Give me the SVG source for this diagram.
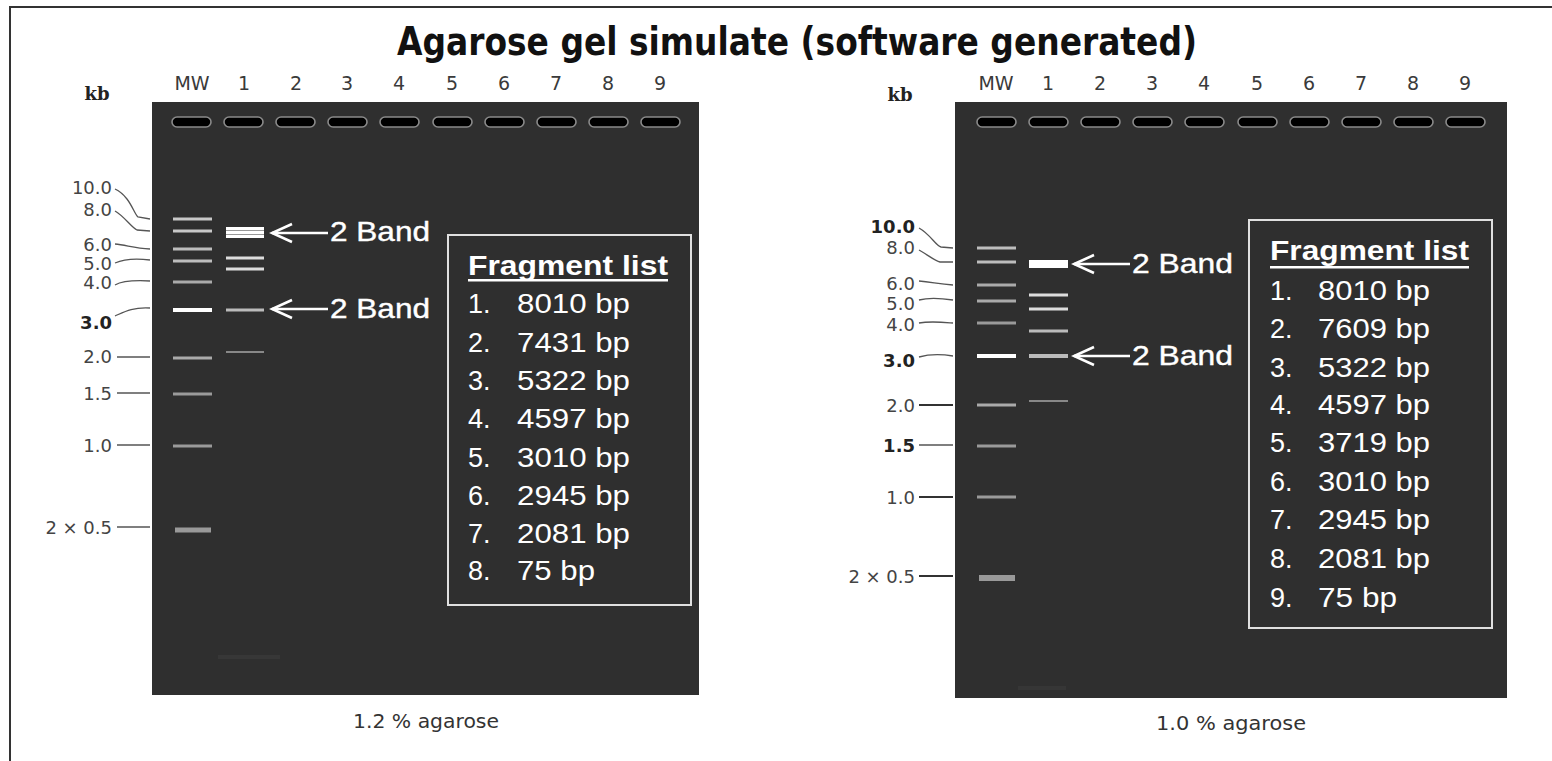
<svg xmlns="http://www.w3.org/2000/svg" width="1552" height="761" viewBox="0 0 1552 761">
<defs>
<style>
.gel{fill:#2f2f2f}
.well{fill:#000;stroke:#8a8a8a;stroke-width:1.6}
.lane{font-family:"DejaVu Sans",Verdana,sans-serif;font-size:19px;fill:#3a3a3a;text-anchor:middle}
.kb{font-family:"DejaVu Serif",serif;font-weight:bold;font-size:18px;fill:#222;text-anchor:middle}
.mk{font-family:"DejaVu Sans",Verdana,sans-serif;font-size:18px;fill:#444;text-anchor:end}
.mkb{font-weight:bold;fill:#222}
.lead{fill:none;stroke:#555;stroke-width:1.3}
.leadb{fill:none;stroke:#333;stroke-width:2.2}
.arrow{stroke:#fff;stroke-width:2.6;fill:none}
.band{font-family:"Liberation Sans",Arial,sans-serif;font-size:28px;fill:#fff;stroke:#fff;stroke-width:0.4}
.fbox{fill:none;stroke:#e0e0e0;stroke-width:2}
.fhead{font-family:"Liberation Sans",Arial,sans-serif;font-size:28px;font-weight:bold;fill:#fff}
.fitem{font-family:"Liberation Sans",Arial,sans-serif;font-size:27px;fill:#fff}
.cap{font-family:"DejaVu Sans",Verdana,sans-serif;font-size:19px;fill:#333;text-anchor:middle}
.title{font-family:"DejaVu Sans",Verdana,sans-serif;font-weight:bold;font-size:39px;fill:#111}
</style>
<marker id="ah" markerUnits="userSpaceOnUse" markerWidth="26" markerHeight="24" viewBox="0 0 26 24" refX="23" refY="12" orient="auto">
<path d="M3,3 L23,12 L3,21" fill="none" stroke="#fff" stroke-width="2.6"/>
</marker>
</defs>
<rect x="0" y="0" width="1552" height="761" fill="#fff"/>
<g id="frame">
<path d="M10,761 L10,7 L1552,7" fill="none" stroke="#333" stroke-width="2"/>
</g>
<g id="title">
<text class="title" x="397" y="55" textLength="800" lengthAdjust="spacingAndGlyphs">Agarose gel simulate (software generated)</text>
</g>

<g id="gel-left">
<rect class="gel" x="152" y="102" width="547" height="593"/>
<text class="kb" x="97" y="100">kb</text>
<g id="lanes-left">
<text class="lane" x="192" y="90">MW</text>
<text class="lane" x="244" y="90">1</text>
<text class="lane" x="296" y="90">2</text>
<text class="lane" x="347" y="90">3</text>
<text class="lane" x="399" y="90">4</text>
<text class="lane" x="452" y="90">5</text>
<text class="lane" x="504" y="90">6</text>
<text class="lane" x="556" y="90">7</text>
<text class="lane" x="608" y="90">8</text>
<text class="lane" x="660" y="90">9</text>
</g>
<g id="wells-left">
<rect class="well" x="172" y="117" width="39" height="10" rx="5"/>
<rect class="well" x="224" y="117" width="39" height="10" rx="5"/>
<rect class="well" x="276" y="117" width="39" height="10" rx="5"/>
<rect class="well" x="328" y="117" width="39" height="10" rx="5"/>
<rect class="well" x="380" y="117" width="39" height="10" rx="5"/>
<rect class="well" x="433" y="117" width="39" height="10" rx="5"/>
<rect class="well" x="485" y="117" width="39" height="10" rx="5"/>
<rect class="well" x="537" y="117" width="39" height="10" rx="5"/>
<rect class="well" x="589" y="117" width="39" height="10" rx="5"/>
<rect class="well" x="641" y="117" width="39" height="10" rx="5"/>
</g>
<g id="marker-labels-left">
<text class="mk" x="112" y="194">10.0</text>
<text class="mk" x="112" y="216">8.0</text>
<text class="mk" x="112" y="251">6.0</text>
<text class="mk" x="112" y="270">5.0</text>
<text class="mk" x="112" y="289">4.0</text>
<text class="mk mkb" x="112" y="329">3.0</text>
<text class="mk" x="112" y="363">2.0</text>
<text class="mk" x="112" y="400">1.5</text>
<text class="mk" x="112" y="452">1.0</text>
<text class="mk" x="112" y="534">2 × 0.5</text>
</g>
<g id="mw-bands-left">
<rect x="173" y="217.5" width="39" height="3" fill="#c8c8c8"/>
<rect x="173" y="229.5" width="39" height="3" fill="#c8c8c8"/>
<rect x="173" y="247.5" width="39" height="3" fill="#bdbdbd"/>
<rect x="173" y="259.5" width="39" height="3" fill="#bdbdbd"/>
<rect x="173" y="280.5" width="39" height="3" fill="#aaa"/>
<rect x="173" y="308" width="39" height="4" fill="#fff"/>
<rect x="173" y="356.5" width="39" height="3" fill="#aaa"/>
<rect x="173" y="392.5" width="39" height="3" fill="#9a9a9a"/>
<rect x="173" y="444.5" width="39" height="3" fill="#9a9a9a"/>
<rect x="175" y="527.5" width="36" height="5" fill="#999"/>
</g>
<g id="lane1-bands-left">
<rect x="226" y="227" width="38" height="11" fill="#fff"/>
<rect x="226" y="230" width="38" height="1" fill="#999"/>
<rect x="226" y="234" width="38" height="1" fill="#999"/>
<rect x="226" y="256.5" width="38" height="3" fill="#ddd"/>
<rect x="226" y="267.5" width="38" height="3" fill="#ddd"/>
<rect x="226" y="308.5" width="38" height="3" fill="#bbb"/>
<rect x="226" y="351" width="38" height="2" fill="#888"/>
<rect x="218" y="655" width="62" height="4" fill="#373737"/>
</g>
<g id="fragment-list-left">
<rect class="fbox" x="448" y="235" width="243" height="370"/>
<text class="fhead" x="468" y="275" textLength="200" lengthAdjust="spacingAndGlyphs">Fragment list</text>
<rect x="468" y="279" width="200" height="2.5" fill="#fff"/>
<text class="fitem" x="468" y="313">1.</text><text class="fitem" x="517" y="313" textLength="113" lengthAdjust="spacingAndGlyphs">8010 bp</text>
<text class="fitem" x="468" y="352">2.</text><text class="fitem" x="517" y="352" textLength="113" lengthAdjust="spacingAndGlyphs">7431 bp</text>
<text class="fitem" x="468" y="390">3.</text><text class="fitem" x="517" y="390" textLength="113" lengthAdjust="spacingAndGlyphs">5322 bp</text>
<text class="fitem" x="468" y="428">4.</text><text class="fitem" x="517" y="428" textLength="113" lengthAdjust="spacingAndGlyphs">4597 bp</text>
<text class="fitem" x="468" y="467">5.</text><text class="fitem" x="517" y="467" textLength="113" lengthAdjust="spacingAndGlyphs">3010 bp</text>
<text class="fitem" x="468" y="505">6.</text><text class="fitem" x="517" y="505" textLength="113" lengthAdjust="spacingAndGlyphs">2945 bp</text>
<text class="fitem" x="468" y="543">7.</text><text class="fitem" x="517" y="543" textLength="113" lengthAdjust="spacingAndGlyphs">2081 bp</text>
<text class="fitem" x="468" y="580">8.</text><text class="fitem" x="517" y="580" textLength="78" lengthAdjust="spacingAndGlyphs">75 bp</text>
</g>
<g id="band-labels-left">
<text class="band" x="330" y="241" textLength="100" lengthAdjust="spacingAndGlyphs">2 Band</text>
<text class="band" x="330" y="318" textLength="100" lengthAdjust="spacingAndGlyphs">2 Band</text>
</g>
<text class="cap" x="426" y="728" textLength="146" lengthAdjust="spacingAndGlyphs">1.2 % agarose</text>
</g>

<g id="gel-right">
<rect class="gel" x="955" y="102" width="552" height="596"/>
<text class="kb" x="900" y="101">kb</text>
<g id="lanes-right">
<text class="lane" x="996" y="90">MW</text>
<text class="lane" x="1048" y="90">1</text>
<text class="lane" x="1100" y="90">2</text>
<text class="lane" x="1152" y="90">3</text>
<text class="lane" x="1204" y="90">4</text>
<text class="lane" x="1257" y="90">5</text>
<text class="lane" x="1309" y="90">6</text>
<text class="lane" x="1361" y="90">7</text>
<text class="lane" x="1413" y="90">8</text>
<text class="lane" x="1465" y="90">9</text>
</g>
<g id="wells-right">
<rect class="well" x="977" y="117" width="39" height="10" rx="5"/>
<rect class="well" x="1029" y="117" width="39" height="10" rx="5"/>
<rect class="well" x="1081" y="117" width="39" height="10" rx="5"/>
<rect class="well" x="1133" y="117" width="39" height="10" rx="5"/>
<rect class="well" x="1185" y="117" width="39" height="10" rx="5"/>
<rect class="well" x="1238" y="117" width="39" height="10" rx="5"/>
<rect class="well" x="1290" y="117" width="39" height="10" rx="5"/>
<rect class="well" x="1342" y="117" width="39" height="10" rx="5"/>
<rect class="well" x="1394" y="117" width="39" height="10" rx="5"/>
<rect class="well" x="1446" y="117" width="39" height="10" rx="5"/>
</g>
<g id="marker-labels-right">
<text class="mk mkb" x="915" y="233">10.0</text>
<text class="mk" x="915" y="254">8.0</text>
<text class="mk" x="915" y="290">6.0</text>
<text class="mk" x="915" y="310">5.0</text>
<text class="mk" x="915" y="331">4.0</text>
<text class="mk mkb" x="915" y="367">3.0</text>
<text class="mk" x="915" y="412">2.0</text>
<text class="mk mkb" x="915" y="452">1.5</text>
<text class="mk" x="915" y="504">1.0</text>
<text class="mk" x="915" y="583">2 × 0.5</text>
</g>
<g id="mw-bands-right">
<rect x="977" y="246.5" width="39" height="3" fill="#bdbdbd"/>
<rect x="977" y="260.5" width="39" height="3" fill="#bdbdbd"/>
<rect x="977" y="283.5" width="39" height="3" fill="#aaa"/>
<rect x="977" y="299.5" width="39" height="3" fill="#aaa"/>
<rect x="977" y="321.5" width="39" height="3" fill="#9a9a9a"/>
<rect x="977" y="354" width="39" height="4" fill="#fff"/>
<rect x="977" y="403.5" width="39" height="3" fill="#aaa"/>
<rect x="977" y="444.5" width="39" height="3" fill="#9a9a9a"/>
<rect x="977" y="495.5" width="39" height="3" fill="#9a9a9a"/>
<rect x="979" y="575" width="36" height="6" fill="#999"/>
</g>
<g id="lane1-bands-right">
<rect x="1029" y="260" width="39" height="8" fill="#fff"/>
<rect x="1029" y="293.5" width="39" height="3" fill="#ddd"/>
<rect x="1029" y="307.5" width="39" height="3" fill="#ddd"/>
<rect x="1029" y="329.5" width="39" height="3" fill="#bbb"/>
<rect x="1029" y="354" width="39" height="4" fill="#bbb"/>
<rect x="1029" y="400" width="39" height="2" fill="#888"/>
<rect x="1018" y="686" width="48" height="4" fill="#363636"/>
</g>
<g id="fragment-list-right">
<rect class="fbox" x="1249" y="220" width="243" height="408"/>
<text class="fhead" x="1270" y="260" textLength="199" lengthAdjust="spacingAndGlyphs">Fragment list</text>
<rect x="1270" y="266" width="199" height="2.5" fill="#fff"/>
<text class="fitem" x="1270" y="300">1.</text><text class="fitem" x="1318" y="300" textLength="112" lengthAdjust="spacingAndGlyphs">8010 bp</text>
<text class="fitem" x="1270" y="338">2.</text><text class="fitem" x="1318" y="338" textLength="112" lengthAdjust="spacingAndGlyphs">7609 bp</text>
<text class="fitem" x="1270" y="377">3.</text><text class="fitem" x="1318" y="377" textLength="112" lengthAdjust="spacingAndGlyphs">5322 bp</text>
<text class="fitem" x="1270" y="414">4.</text><text class="fitem" x="1318" y="414" textLength="112" lengthAdjust="spacingAndGlyphs">4597 bp</text>
<text class="fitem" x="1270" y="452">5.</text><text class="fitem" x="1318" y="452" textLength="112" lengthAdjust="spacingAndGlyphs">3719 bp</text>
<text class="fitem" x="1270" y="491">6.</text><text class="fitem" x="1318" y="491" textLength="112" lengthAdjust="spacingAndGlyphs">3010 bp</text>
<text class="fitem" x="1270" y="529">7.</text><text class="fitem" x="1318" y="529" textLength="112" lengthAdjust="spacingAndGlyphs">2945 bp</text>
<text class="fitem" x="1270" y="568">8.</text><text class="fitem" x="1318" y="568" textLength="112" lengthAdjust="spacingAndGlyphs">2081 bp</text>
<text class="fitem" x="1270" y="607">9.</text><text class="fitem" x="1318" y="607" textLength="79" lengthAdjust="spacingAndGlyphs">75 bp</text>
</g>
<g id="band-labels-right">
<text class="band" x="1132" y="273" textLength="101" lengthAdjust="spacingAndGlyphs">2 Band</text>
<text class="band" x="1132" y="365" textLength="101" lengthAdjust="spacingAndGlyphs">2 Band</text>
</g>
<text class="cap" x="1231" y="730" textLength="150" lengthAdjust="spacingAndGlyphs">1.0 % agarose</text>
</g>

<g id="connectors">
<path class="lead" d="M115,189 C130,196 134,214 138,217 L150,219"/>
<path class="lead" d="M115,211 C124,216 132,228 137,230 L150,231"/>
<path class="lead" d="M115,244 C126,245 134,248 150,249"/>
<path class="lead" d="M115,263 C124,259 134,258 150,260"/>
<path class="lead" d="M115,285 C122,281 132,280 150,281"/>
<path class="lead" d="M115,316 C124,312 132,307 150,308"/>
<path class="lead" d="M117,357 L150,357"/>
<path class="lead" d="M117,393 L150,393"/>
<path class="lead" d="M117,445 L150,445"/>
<path class="lead" d="M117,527 L150,527"/>
<path class="lead" d="M919,228 C930,234 936,246 941,247 L953,248"/>
<path class="lead" d="M919,250 C928,255 935,261 940,262 L953,262"/>
<path class="lead" d="M919,281 C932,282 938,284 953,285"/>
<path class="lead" d="M919,300 C930,297 940,298 953,300"/>
<path class="lead" d="M919,323 C930,321 940,322 953,323"/>
<path class="lead" d="M919,357 C930,354 940,354 953,356"/>
<path class="leadb" d="M919,405 L953,405"/>
<path class="lead" d="M919,445 L953,445"/>
<path class="leadb" d="M919,497 L953,497"/>
<path class="leadb" d="M919,576 L953,576"/>
<line class="arrow" x1="328" y1="233" x2="272" y2="233" marker-end="url(#ah)"/>
<line class="arrow" x1="328" y1="309" x2="272" y2="309" marker-end="url(#ah)"/>
<line class="arrow" x1="1130" y1="264" x2="1074" y2="264" marker-end="url(#ah)"/>
<line class="arrow" x1="1130" y1="356" x2="1074" y2="356" marker-end="url(#ah)"/>
</g>
</svg>
